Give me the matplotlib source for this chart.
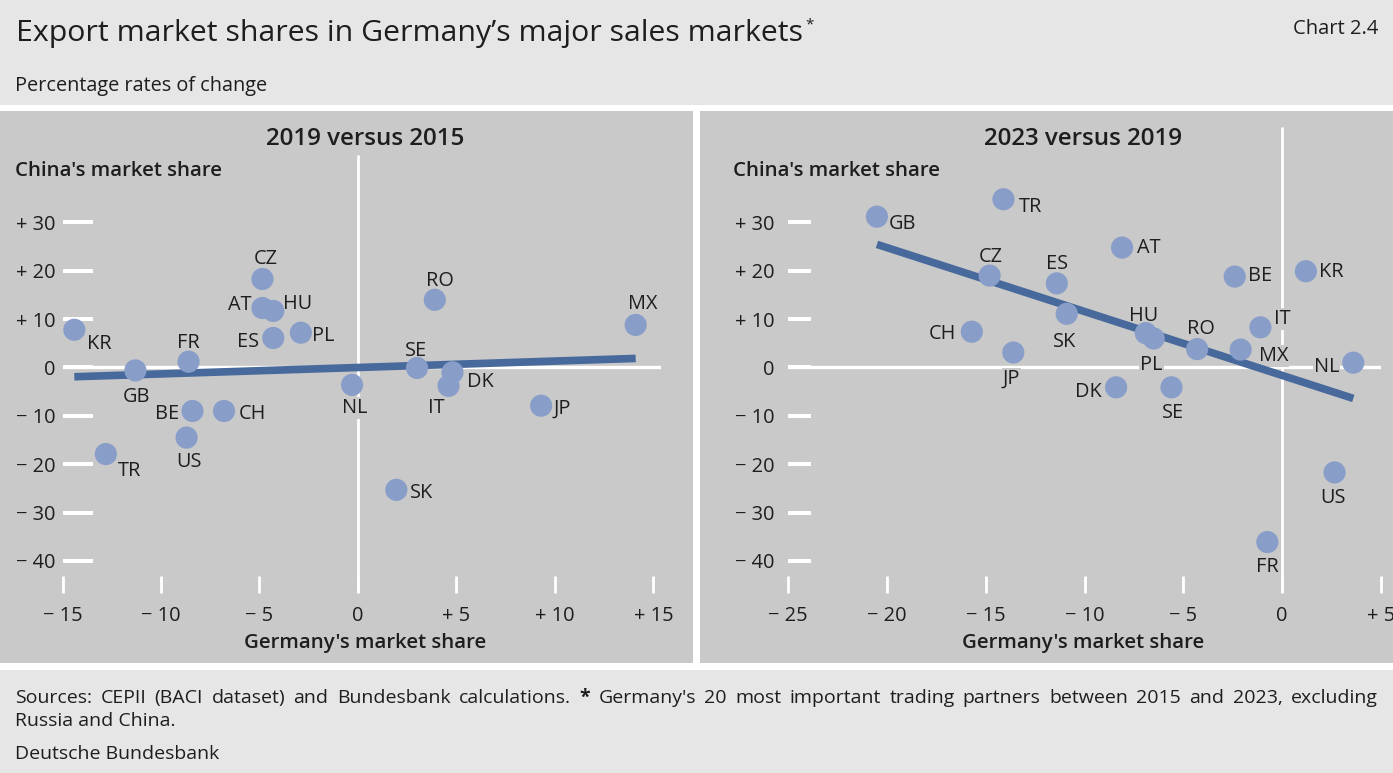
import matplotlib
matplotlib.use('Agg')
import matplotlib.pyplot as plt
import numpy as np
from matplotlib.patches import Rectangle

# ---------------- data ----------------
countries_1 = ['KR', 'GB', 'FR', 'CZ', 'AT', 'HU', 'ES', 'PL', 'RO', 'MX',
               'SE', 'DK', 'IT', 'NL', 'JP', 'BE', 'CH', 'US', 'TR', 'SK']
germany_1 = [-14.4, -11.3, -8.6, -4.85, -4.85, -4.3, -4.3, -2.9, 3.9, 14.1,
             3.0, 4.8, 4.6, -0.3, 9.3, -8.4, -6.8, -8.7, -12.8, 1.95]
china_1 = [7.8, -0.6, 1.2, 18.3, 12.3, 11.7, 6.1, 7.2, 14.0, 8.8,
           -0.1, -1.0, -3.8, -3.6, -7.9, -9.0, -9.0, -14.5, -17.9, -25.3]
trend_slope_1, trend_intercept_1 = 0.133, 0.0

countries_2 = ['GB', 'TR', 'AT', 'CZ', 'ES', 'BE', 'KR', 'SK', 'CH', 'HU',
               'PL', 'IT', 'RO', 'MX', 'JP', 'NL', 'DK', 'SE', 'US', 'FR']
germany_2 = [-20.5, -14.1, -8.1, -14.8, -11.4, -2.4, 1.2, -10.9, -15.7, -6.9,
             -6.5, -1.1, -4.3, -2.1, -13.6, 3.6, -8.4, -5.6, 2.65, -0.75]
china_2 = [31.2, 34.8, 24.8, 19.0, 17.4, 18.8, 19.9, 11.1, 7.4, 7.1,
           6.0, 8.3, 3.8, 3.7, 3.1, 1.0, -4.1, -4.1, -21.7, -36.1]
trend_slope_2, trend_intercept_2 = -1.322, -1.64

y_ticks = [-40, -30, -20, -10, 0, 10, 20, 30]
x_ticks_1 = [-15, -10, -5, 0, 5, 10, 15]
x_ticks_2 = [-25, -20, -15, -10, -5, 0, 5]

panel_titles = ['2019 versus 2015', '2023 versus 2019']
y_title = "China's market share"
x_title = "Germany's market share"
title = 'Export market shares in Germany\u2019s major sales markets'
subtitle = 'Percentage rates of change'
chart_no = 'Chart 2.4'
footer_1 = ("Sources: CEPII (BACI dataset) and Bundesbank calculations. * Germany's 20 most "
            "important trading partners between 2015 and 2023, excluding")
footer_2 = 'Russia and China.'
footer_3 = 'Deutsche Bundesbank'

# ---------------- label placement (pixel offsets: right, down) ----------------
offs_1 = {'KR': (25, 12), 'GB': (1, 24), 'FR': (0, -21), 'CZ': (3, -22), 'AT': (-23, -5),
          'HU': (24, -9), 'ES': (-25, 2), 'PL': (22, 1), 'RO': (5, -21), 'MX': (7, -23),
          'SE': (-1, -19), 'DK': (28, 7), 'IT': (-12, 20), 'NL': (3, 21), 'JP': (21, 1),
          'BE': (-25, 1), 'CH': (28, 1), 'US': (2, 22), 'TR': (24, 15), 'SK': (25, 1)}
offs_2 = {'GB': (26, 5), 'TR': (27, 5), 'AT': (27, -2), 'CZ': (1, -21), 'ES': (0, -22),
          'BE': (25, -3), 'KR': (25, -2), 'SK': (-2, 26), 'CH': (-29, 0), 'HU': (-2, -19),
          'PL': (-2, 24), 'IT': (22, -11), 'RO': (4, -22), 'MX': (33, 4), 'JP': (-2, 24),
          'NL': (-27, 2), 'DK': (-28, 2), 'SE': (2, 23), 'US': (-2, 23), 'FR': (0, 23)}

# ---------------- style ----------------
W, H, DPI = 1393, 773, 100
HEAD_BG = '#e6e6e6'
PANEL_BG = '#c9c9c9'
DOT = '#889ec9'
LINE = '#48699b'
TXT = '#1e1e1e'
FONT = ['Open Sans', 'DejaVu Sans']
plt.rcParams['font.family'] = FONT
plt.rcParams['text.color'] = TXT


def fx(x):
    return x / W


def fy(y):
    return 1 - y / H


fig = plt.figure(figsize=(W / DPI, H / DPI), dpi=DPI, facecolor=HEAD_BG)
fig.add_artist(Rectangle((0, fy(670)), 1, (670 - 105) / H, transform=fig.transFigure,
                         fc='white', ec='none', zorder=0))
fig.add_artist(Rectangle((0, fy(663)), fx(693), (663 - 111) / H, transform=fig.transFigure,
                         fc=PANEL_BG, ec='none', zorder=0))
fig.add_artist(Rectangle((fx(700), fy(663)), fx(W - 700), (663 - 111) / H,
                         transform=fig.transFigure, fc=PANEL_BG, ec='none', zorder=0))

ylim = (-46.7, 49.8)
top_px, bot_px = 126.7, 593.3


def fmt(v):
    if v == 0:
        return '0'
    return ('+ ' if v > 0 else '\u2212 ') + str(abs(v))


def panel(left_px, right_px, xlim, xticks, gx, cy, names, offs, slope, icpt,
          ytick_len, ytick_pad, vline_top):
    ax = fig.add_axes([fx(left_px), fy(bot_px), (right_px - left_px) / W, (bot_px - top_px) / H])
    ax.set_facecolor('none')
    ax.set_xlim(*xlim)
    ax.set_ylim(*ylim)
    for s in ax.spines.values():
        s.set_visible(False)
    ax.set_xticks(xticks)
    ax.set_xticklabels([fmt(v) for v in xticks])
    ax.set_yticks(y_ticks)
    ax.set_yticklabels([fmt(v) for v in y_ticks])
    ax.tick_params(axis='x', direction='in', length=12.2, width=2.0, color='white',
                   labelsize=14.4, pad=9, labelcolor=TXT)
    ax.tick_params(axis='y', direction='in', length=ytick_len, width=2.9, color='white',
                   labelsize=14.4, pad=ytick_pad, labelcolor=TXT)
    # zero lines
    ax.axhline(0, color='white', lw=2.4, zorder=1)
    ax.plot([0, 0], [ylim[0], vline_top], color='white', lw=2.0, zorder=1,
            solid_capstyle='butt')
    # trend line across the data range
    xs = np.array([min(gx), max(gx)])
    ax.plot(xs, slope * xs + icpt, color=LINE, lw=5.5, zorder=3, solid_capstyle='butt')
    ax.scatter(gx, cy, s=255, color=DOT, edgecolors='none', zorder=4, clip_on=False)
    for n, x, y in zip(names, gx, cy):
        dx, dy = offs[n]
        ax.annotate(n, (x, y), xytext=(dx, -dy - 7.3), textcoords='offset pixels',
                    ha='center', va='baseline', fontsize=14.3, color=TXT, zorder=2,
                    bbox=dict(boxstyle='square,pad=0.05', fc=PANEL_BG, ec='none'))
    return ax


ax1 = panel(62.5, 660.7, (-15, 15.37), x_ticks_1, germany_1, china_1, countries_1, offs_1,
            trend_slope_1, trend_intercept_1, 21.6, 4.8, 44)
ax2 = panel(788, 1381, (-25, 5.0), x_ticks_2, germany_2, china_2, countries_2, offs_2,
            trend_slope_2, trend_intercept_2, 16.6, 9.7, ylim[1])

# panel texts
for cx, t in zip([365, 1083], panel_titles):
    fig.text(fx(cx), fy(145), t, ha='center', va='baseline', fontsize=17.4, weight='semibold')
for lx in [15, 733]:
    fig.text(fx(lx), fy(175.7), y_title, ha='left', va='baseline', fontsize=14.7,
             weight='semibold')
for cx in [365, 1083]:
    fig.text(fx(cx), fy(648.3), x_title, ha='center', va='baseline', fontsize=14.7,
             weight='semibold')

# header
t_title = fig.text(fx(16), fy(40.7), title, ha='left', va='baseline', fontsize=21.8)
fig.text(fx(15), fy(90.7), subtitle, ha='left', va='baseline', fontsize=14.3)
fig.text(fx(1378), fy(34.3), chart_no, ha='right', va='baseline', fontsize=14.5)

fig.canvas.draw()
r = fig.canvas.get_renderer()
bb = t_title.get_window_extent(r)
fig.text(fx(bb.x1 + 2), fy(28), '*', ha='left', va='baseline', fontsize=11)

# footer line 1, justified between x=15 and x=1378
FOOT_FS = 14.0
words = footer_1.split(' ')
arts = []
for w in words:
    arts.append(fig.text(0, fy(703.3), w, ha='left', va='baseline', fontsize=FOOT_FS,
                         weight='bold' if w == '*' else 'normal'))
fig.canvas.draw()
widths = [a.get_window_extent(r).width for a in arts]
gap = (1378 - 15 - sum(widths)) / (len(words) - 1)
xpos = 15
for a, wd in zip(arts, widths):
    a.set_x(fx(xpos))
    xpos += wd + gap
fig.text(fx(15), fy(726), footer_2, ha='left', va='baseline', fontsize=FOOT_FS)
fig.text(fx(15), fy(759.3), footer_3, ha='left', va='baseline', fontsize=FOOT_FS)

fig.savefig('out.png', dpi=DPI, facecolor=HEAD_BG)
